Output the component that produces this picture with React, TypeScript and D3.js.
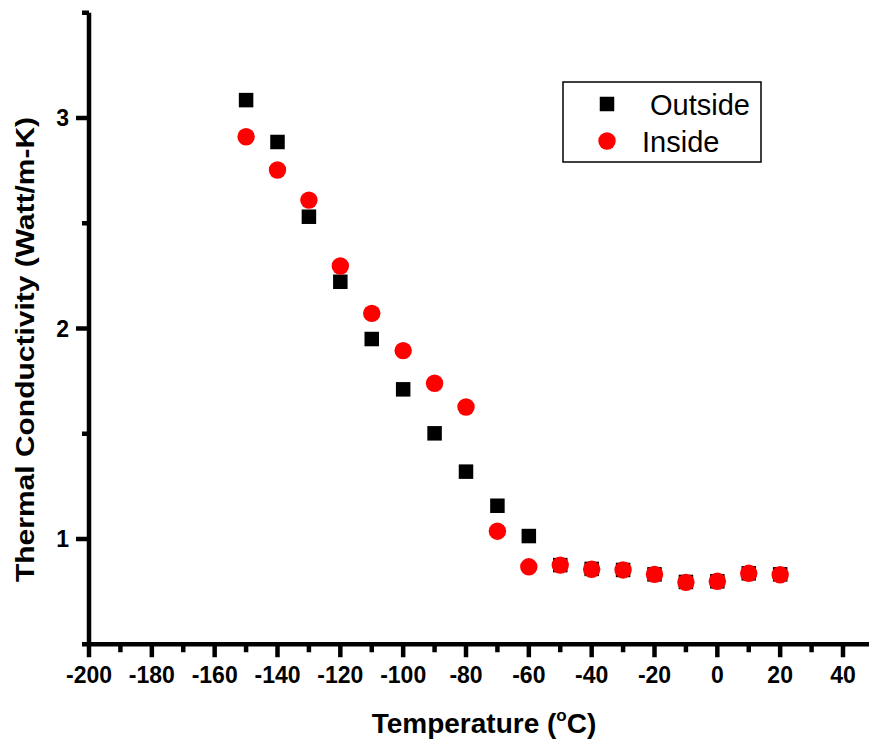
import React from "react";
import * as d3 from "d3";

const temperatures = [-150, -140, -130, -120, -110, -100, -90, -80, -70, -60, -50, -40, -30, -20, -10, 0, 10, 20];
const outsideValues = [3.085, 2.886, 2.531, 2.222, 1.95, 1.711, 1.502, 1.32, 1.158, 1.014, 0.876, 0.858, 0.853, 0.832, 0.796, 0.799, 0.837, 0.832];
const insideValues = [2.911, 2.753, 2.61, 2.297, 2.072, 1.895, 1.74, 1.627, 1.037, 0.868, 0.876, 0.856, 0.853, 0.832, 0.794, 0.799, 0.837, 0.83];
const xMajorTicks = [-200, -180, -160, -140, -120, -100, -80, -60, -40, -20, 0, 20, 40];
const xMinorTicks = [-190, -170, -150, -130, -110, -90, -70, -50, -30, -10, 10, 30];
const yMajorTicks = [1, 2, 3];
const yMinorTicks = [0.5, 1.5, 2.5, 3.5];
const seriesNames = ["Outside", "Inside"];
const seriesColors = ["#000000", "#ff0000"];

export default function App() {
  const W = 869, H = 745;
  const x = d3.scaleLinear().domain([-200, 40]).range([89, 843]);
  const y = d3.scaleLinear().domain([1, 3]).range([539, 118]);
  const yBottom = y(0.5);
  const yTop = y(3.5);
  const font = "'Liberation Sans', Arial, sans-serif";
  const sq = 14.5;
  const r = 8.7;
  const axisW = 4.5;

  return (
    <svg width={W} height={H} style={{ position: "absolute", left: 0, top: 0, display: "block" }} xmlns="http://www.w3.org/2000/svg">
      <rect width={W} height={H} fill="#ffffff" />
      <line x1={x(-200)} x2={W + 5} y1={yBottom} y2={yBottom} stroke="#000" strokeWidth={axisW} />
      <line x1={x(-200)} x2={x(-200)} y1={yTop} y2={yBottom} stroke="#000" strokeWidth={axisW} />
      {xMajorTicks.map((t) => (
        <g key={"xM" + t}>
          <line x1={x(t)} x2={x(t)} y1={yBottom} y2={yBottom + 13} stroke="#000" strokeWidth={axisW} />
          <text x={x(t)} y={683} textAnchor="middle" fontFamily={font} fontWeight="bold" fontSize={23}>{t}</text>
        </g>
      ))}
      {xMinorTicks.map((t) => (
        <line key={"xm" + t} x1={x(t)} x2={x(t)} y1={yBottom} y2={yBottom + 8} stroke="#000" strokeWidth={axisW} />
      ))}
      {yMajorTicks.map((t) => (
        <g key={"yM" + t}>
          <line x1={x(-200) - 13} x2={x(-200)} y1={y(t)} y2={y(t)} stroke="#000" strokeWidth={axisW} />
          <text x={69} y={y(t) + 8} textAnchor="end" fontFamily={font} fontWeight="bold" fontSize={23}>{t}</text>
        </g>
      ))}
      {yMinorTicks.map((t) => (
        <line key={"ym" + t} x1={x(-200) - 7} x2={x(-200)} y1={y(t)} y2={y(t)} stroke="#000" strokeWidth={axisW} />
      ))}
      <text x={484} y={733} textAnchor="middle" fontFamily={font} fontWeight="bold" fontSize={28}>
        Temperature (<tspan fontSize={17} dy={-12}>o</tspan><tspan dy={12}>C)</tspan>
      </text>
      <text transform={`translate(34,349.5) rotate(-90)`} textAnchor="middle" fontFamily={font} fontWeight="bold" fontSize={26} textLength={465} lengthAdjust="spacingAndGlyphs">
        Thermal Conductivity (Watt/m-K)
      </text>
      {temperatures.map((t, i) => (
        <rect key={"o" + t} x={x(t) - sq / 2} y={y(outsideValues[i]) - sq / 2} width={sq} height={sq} fill={seriesColors[0]} />
      ))}
      {temperatures.map((t, i) => (
        <circle key={"i" + t} cx={x(t)} cy={y(insideValues[i])} r={r} fill={seriesColors[1]} />
      ))}
      <rect x={563} y={82} width={198} height={80} fill="none" stroke="#000" strokeWidth={1.5} />
      <rect x={607 - sq / 2} y={104 - sq / 2} width={sq} height={sq} fill={seriesColors[0]} />
      <text x={650} y={115} fontFamily={font} fontSize={29}>{seriesNames[0]}</text>
      <circle cx={607} cy={141} r={r} fill={seriesColors[1]} />
      <text x={642} y={152} fontFamily={font} fontSize={29}>{seriesNames[1]}</text>
    </svg>
  );
}
